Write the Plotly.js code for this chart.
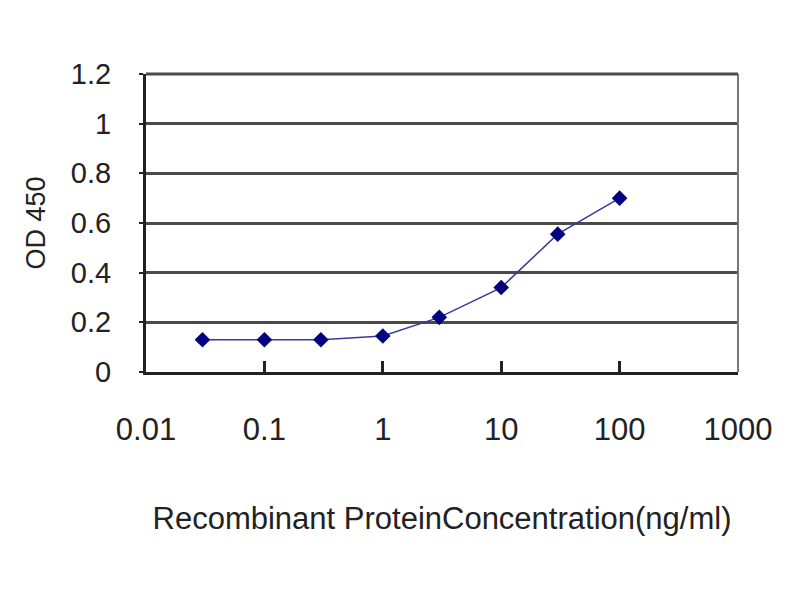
<!DOCTYPE html>
<html>
<head>
<meta charset="utf-8">
<script src="https://cdn.plot.ly/plotly-3.0.1.min.js"></script>
<style>html,body{margin:0;padding:0;background:#fff;}#chart{width:800px;height:600px;}</style>
</head>
<body>
<div id="chart"></div>
<script>
const concentrations = [0.03, 0.1, 0.3, 1, 3, 10, 30, 100];
const od450 = [0.13, 0.13, 0.13, 0.145, 0.22, 0.34, 0.555, 0.70];
const xTickVals = [0.01, 0.1, 1, 10, 100, 1000];
const xTickText = ['0.01', '0.1', '1', '10', '100', '1000'];
const yTickVals = [0, 0.2, 0.4, 0.6, 0.8, 1, 1.2];
const yTickText = ['0', '0.2', '0.4', '0.6', '0.8', '1', '1.2'];

const font = 'Liberation Sans, Arial, sans-serif';

const trace = {
  x: concentrations,
  y: od450,
  type: 'scatter',
  mode: 'lines+markers',
  line: {color: '#3a3a96', width: 1.5},
  marker: {symbol: 'diamond', size: 12, color: '#000080'},
  showlegend: false
};

const layout = {
  width: 800,
  height: 600,
  margin: {l: 146, r: 62, t: 74, b: 228},
  paper_bgcolor: '#fff',
  plot_bgcolor: '#fff',
  font: {family: font, color: '#222'},
  xaxis: {
    type: 'log',
    range: [-2, 3],
    tickvals: xTickVals,
    ticktext: xTickText,
    tickfont: {size: 31, color: '#222'},
    ticks: 'inside',
    ticklen: 11,
    tickwidth: 3,
    tickcolor: '#222',
    ticklabelstandoff: 28,
    showgrid: false,
    showline: true,
    linecolor: '#222',
    linewidth: 3,
    zeroline: false,
    title: {text: 'Recombinant ProteinConcentration(ng/ml)', font: {size: 31, color: '#222'}, standoff: 62}
  },
  yaxis: {
    range: [0, 1.2],
    tickvals: yTickVals,
    ticktext: yTickText,
    tickfont: {size: 29, color: '#222'},
    ticks: 'outside',
    ticklen: 4,
    tickwidth: 2,
    tickcolor: '#222',
    ticklabelstandoff: 22,
    showgrid: true,
    gridcolor: '#4a4a4a',
    gridwidth: 3,
    showline: true,
    linecolor: '#222',
    linewidth: 3,
    zeroline: false,
    title: {text: 'OD 450', font: {size: 27, color: '#222'}, standoff: 18}
  },
  shapes: [
    {type: 'line', xref: 'paper', yref: 'paper', x0: 1, x1: 1, y0: 0, y1: 1, line: {color: '#777', width: 2}},
    {type: 'line', xref: 'paper', yref: 'paper', x0: 0, x1: 1, y0: 1, y1: 1, line: {color: '#4a4a4a', width: 3}}
  ]
};

Plotly.newPlot('chart', [trace], layout, {displayModeBar: false, staticPlot: true});
</script>
</body>
</html>
